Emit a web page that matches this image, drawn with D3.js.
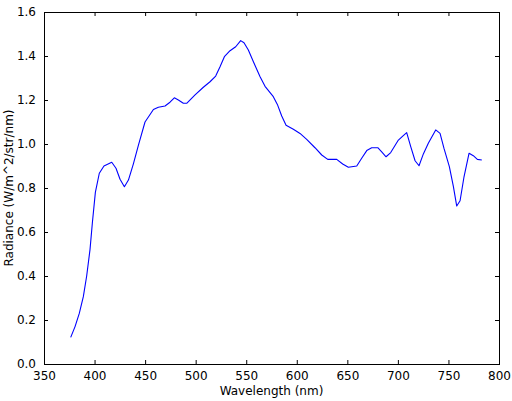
<!DOCTYPE html>
<html><head><meta charset="utf-8">
<script src="https://d3js.org/d3.v7.min.js"></script>
<style>body{margin:0;background:#fff}svg{display:block}text{font-family:"DejaVu Sans",sans-serif;fill:#000}</style>
</head><body>
<script>
const wavelength = [376.4,380.7,384.9,388.9,392.2,395.5,397.8,400.8,404.7,409.3,417,421.2,425.2,429.5,433.5,438.4,443.4,449.9,458.2,463.1,469.7,474.6,478.9,482.9,487.8,491.1,499.4,507.6,514.2,519.8,524.1,528.4,534,539.6,544.5,547.8,552.1,557.1,563.7,568.6,576.8,580.8,585.1,589.4,596.6,603.2,609.8,618,624.7,630.6,639.5,645.4,651,659.3,664.2,669.2,674.1,680.1,684,688.3,692.9,700.5,704.8,708.7,712.7,717,720.9,725.2,730.1,737.4,741.7,745.6,750.9,754.9,758.2,761.5,765.4,770.4,774.6,778.6,783];
const radiance = [0.121,0.17,0.23,0.306,0.40,0.52,0.64,0.78,0.867,0.90,0.917,0.89,0.84,0.806,0.836,0.91,0.995,1.10,1.157,1.167,1.173,1.19,1.21,1.20,1.185,1.185,1.223,1.258,1.283,1.309,1.351,1.397,1.424,1.442,1.47,1.46,1.427,1.374,1.306,1.262,1.215,1.18,1.127,1.085,1.067,1.048,1.021,0.983,0.95,0.930,0.930,0.909,0.894,0.9,0.935,0.97,0.983,0.983,0.964,0.942,0.961,1.018,1.036,1.052,0.988,0.924,0.901,0.955,1.003,1.064,1.048,0.98,0.897,0.806,0.718,0.742,0.851,0.958,0.947,0.93,0.927];
const xTicks = [350,400,450,500,550,600,650,700,750,800];
const yTicks = [0.0,0.2,0.4,0.6,0.8,1.0,1.2,1.4,1.6];
const xLabel = "Wavelength (nm)";
const yLabel = "Radiance (W/m^2/str/nm)";

const W = 512, H = 401;
const m = {left:44, right:499, top:12, bottom:364};
const svg = d3.select("body").append("svg").attr("width",W).attr("height",H);
const x = d3.scaleLinear().domain([350,800]).range([m.left,m.right]);
const y = d3.scaleLinear().domain([0,1.6]).range([m.bottom,m.top]);

const line = d3.line().x((d,i)=>x(wavelength[i])).y(d=>y(d));
svg.append("path").datum(radiance).attr("d",line).attr("fill","none").attr("stroke","#0000ff").attr("stroke-width",1.1).attr("stroke-linejoin","round");

const fmt = d3.format(".1f");
// bottom axis
const gx = svg.append("g").attr("transform",`translate(0,${m.bottom})`)
  .call(d3.axisBottom(x).tickValues(xTicks).tickSizeInner(-4).tickSizeOuter(0).tickPadding(7).tickFormat(d3.format("d")));
const gxt = svg.append("g").attr("transform",`translate(0,${m.top})`)
  .call(d3.axisTop(x).tickValues(xTicks).tickSizeInner(-4).tickSizeOuter(0).tickFormat(""));
const gy = svg.append("g").attr("transform",`translate(${m.left},0)`)
  .call(d3.axisLeft(y).tickValues(yTicks).tickSizeInner(-4).tickSizeOuter(0).tickPadding(8).tickFormat(fmt));
const gyr = svg.append("g").attr("transform",`translate(${m.right},0)`)
  .call(d3.axisRight(y).tickValues(yTicks).tickSizeInner(-4).tickSizeOuter(0).tickFormat(""));
[gx,gxt,gy,gyr].forEach(g=>{
  g.select(".domain").remove();
  g.selectAll(".tick line").attr("stroke","#000");
  g.selectAll("text").attr("font-size",12).attr("font-family","DejaVu Sans").attr("fill","#000");
});
svg.append("rect").attr("x",m.left).attr("y",m.top).attr("width",m.right-m.left).attr("height",m.bottom-m.top)
  .attr("fill","none").attr("stroke","#000").attr("stroke-width",1).attr("shape-rendering","crispEdges");

svg.append("text").attr("x",(m.left+m.right)/2).attr("y",395).attr("text-anchor","middle").attr("font-size",12).text(xLabel);
svg.append("text").attr("transform",`translate(13,${(m.top+m.bottom)/2}) rotate(-90)`).attr("text-anchor","middle").attr("font-size",12).text(yLabel);
</script>
</body></html>
